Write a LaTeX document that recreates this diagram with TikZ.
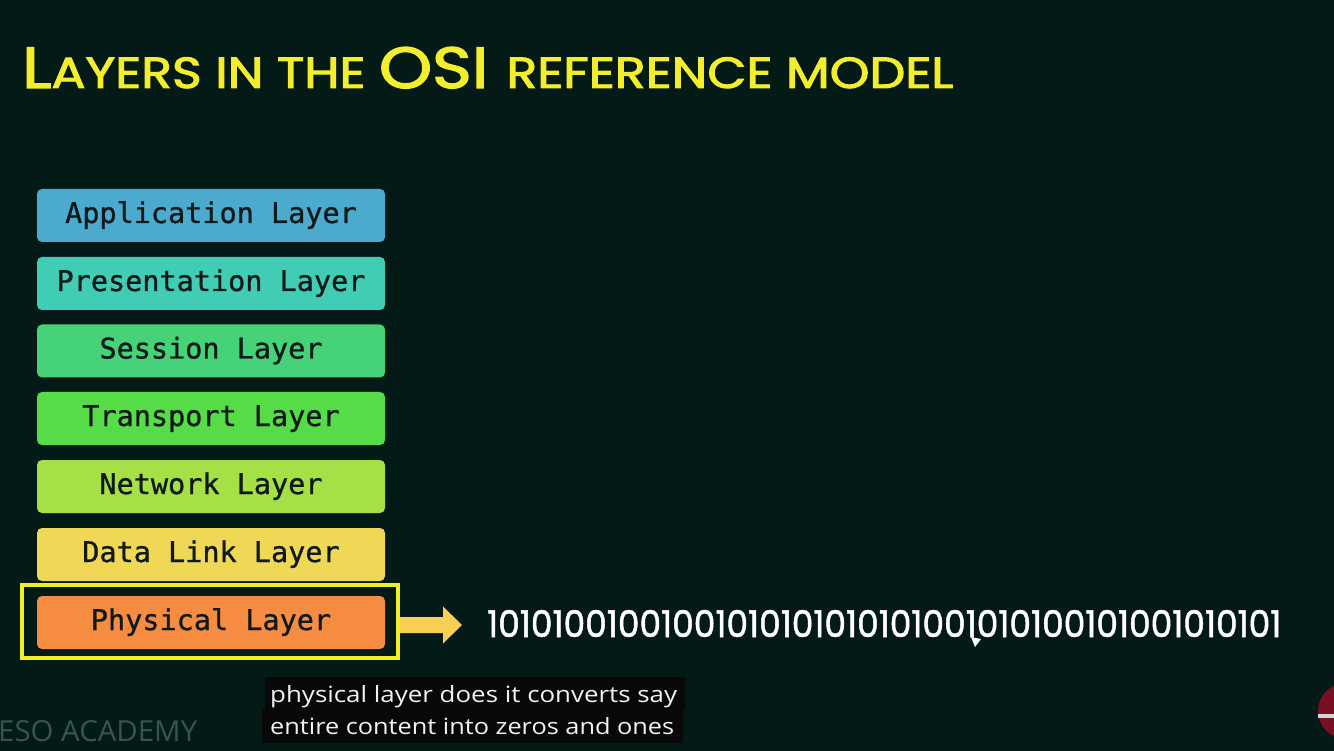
\documentclass[tikz,border=0pt]{standalone}
\usepackage{fontspec}
\usetikzlibrary{arrows.meta}
\newfontfamily\monof[FakeBold=0.9]{DejaVu Sans Mono}
\newfontfamily\popf[FakeBold=2.2]{Poppins}
\newfontfamily\digf[FakeBold=1.4]{Poppins}
\newfontfamily\opf{Open Sans}
\definecolor{bgc}{RGB}{4,26,22}
\definecolor{titlec}{RGB}{242,238,45}
\definecolor{cApp}{RGB}{75,170,205}
\definecolor{cPre}{RGB}{65,205,180}
\definecolor{cSes}{RGB}{70,210,120}
\definecolor{cTra}{RGB}{85,220,70}
\definecolor{cNet}{RGB}{165,225,70}
\definecolor{cDat}{RGB}{240,215,85}
\definecolor{cPhy}{RGB}{245,140,65}
\definecolor{laytext}{RGB}{15,25,25}
\definecolor{hlc}{RGB}{240,238,40}
\definecolor{arrowc}{RGB}{250,205,85}
\definecolor{subbg}{RGB}{8,8,8}
\definecolor{subtext}{RGB}{242,242,242}
\definecolor{esoc}{RGB}{55,85,78}
\definecolor{redc}{RGB}{120,15,35}
\tikzset{
  layerbox/.style={rounded corners=5pt, minimum width=348pt, minimum height=53pt,
    inner sep=0pt, text height=20pt, text depth=5pt, text=laytext,
    font=\monof\fontsize{28.5}{30}\selectfont},
  plain/.style={anchor=base west, inner sep=0pt},
  subbox/.style={fill=subbg, inner sep=0pt},
}
\begin{document}
\begin{tikzpicture}[x=1pt,y=-1pt]
\useasboundingbox (0,0) rectangle (1334,751);
\clip (0,0) rectangle (1334,751);
\fill[bgc] (0,0) rectangle (1334,751);

% title
\node[plain, text=titlec] (title) at (22,88)
  {\resizebox{931pt}{41pt}{\popf\fontsize{40}{40}\selectfont L\fontsize{30}{30}\selectfont AYERS IN THE \fontsize{40}{40}\selectfont OSI \fontsize{30}{30}\selectfont REFERENCE MODEL}};

% layers
\node[layerbox, fill=cApp] (app) at (211,215.5) {Application Layer};
\node[layerbox, fill=cPre] (pre) at (211,283.5) {Presentation Layer};
\node[layerbox, fill=cSes] (ses) at (211,351) {Session Layer};
\node[layerbox, fill=cTra] (tra) at (211,418.5) {Transport Layer};
\node[layerbox, fill=cNet] (net) at (211,486.5) {Network Layer};
\node[layerbox, fill=cDat] (dat) at (211,554.5) {Data Link Layer};
\node[layerbox, fill=cPhy] (phy) at (211,622.5) {Physical Layer};

% highlight
\node[draw=hlc, line width=4pt, minimum width=376pt, minimum height=73pt, inner sep=0pt] (hl) at (210,621.5) {};

% bits
\node[plain, text=white] (bits) at (487,637)
  {\resizebox{794pt}{27pt}{\digf 10101001001001010101010101001010100101001010101}};

% arrow
\draw[arrowc, line width=16pt, -{Triangle[length=19pt, width=36pt]}]
  ([yshift=-3.5pt]hl.east) -- ([xshift=-25pt, yshift=-1.5pt]bits.west);

% cursor
\fill[white] (971,637) -- (981,639) -- (975,647) -- cycle;

% subtitles
\node[subbox, minimum width=420pt, minimum height=33pt] (sb1) at (475,693.5) {};
\node[subbox, minimum width=421pt, minimum height=34pt] (sb2) at (472.5,726) {};
\node[plain, text=subtext] (t1) at (270,702)
  {\resizebox{407pt}{17pt}{\opf physical layer does it converts say}};
\node[plain, text=subtext] (t2) at (270,734)
  {\resizebox{404pt}{17pt}{\opf entire content into zeros and ones}};

% watermark
\node[plain, text=esoc] (eso) at (-2,741)
  {\resizebox{199pt}{21pt}{\opf ESO ACADEMY}};

% red circle
\fill[redc] (1346,711) circle (28);
\fill[gray!35] (1318,714) rectangle (1334,718);
\end{tikzpicture}
\end{document}
